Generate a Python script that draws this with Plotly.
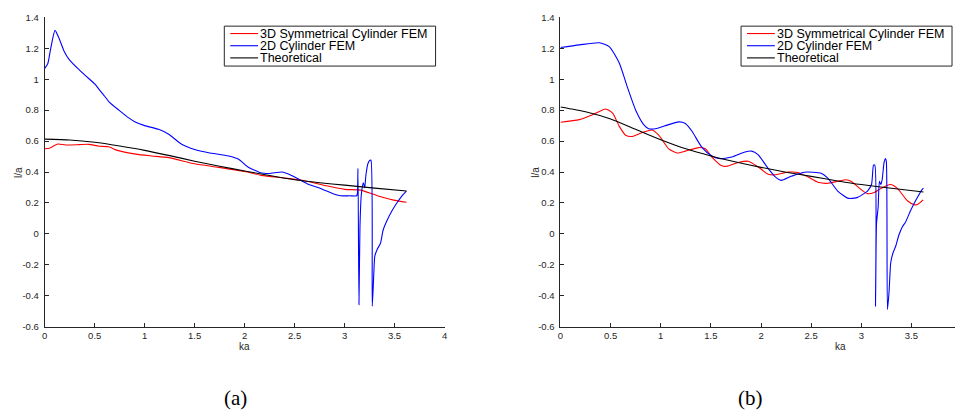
import plotly.graph_objects as go

W, H = 958, 418

# ---------------- data ----------------
# (a) left panel
a_blue_x = [0.0, 0.03, 0.06, 0.103, 0.14, 0.195, 0.245, 0.33, 0.41, 0.5, 0.543, 0.6, 0.643, 0.742,
            0.84, 0.91, 1.0, 1.14, 1.24, 1.37, 1.5, 1.64, 1.84, 1.94, 2.03, 2.17, 2.23, 2.3, 2.37,
            2.47, 2.63, 2.76, 2.9, 2.96, 3.05, 3.12, 3.128, 3.134, 3.144, 3.154, 3.168, 3.188,
            3.201, 3.214, 3.234, 3.254, 3.264, 3.277, 3.293, 3.303, 3.327, 3.36, 3.386, 3.426,
            3.476, 3.526, 3.575, 3.618]
a_blue_y = [1.07, 1.1, 1.2, 1.316, 1.27, 1.18, 1.127, 1.07, 1.022, 0.97, 0.935, 0.89, 0.854, 0.80,
            0.75, 0.722, 0.70, 0.676, 0.644, 0.58, 0.546, 0.525, 0.504, 0.483, 0.434, 0.393, 0.39,
            0.395, 0.40, 0.378, 0.323, 0.294, 0.256, 0.246, 0.246, 0.246, 0.26, 0.424, -0.458,
            0.046, 0.256, 0.33, 0.298, 0.382, 0.455, 0.476, 0.476, -0.468, -0.248, -0.143, -0.1,
            -0.059, 0.025, 0.088, 0.151, 0.203, 0.246, 0.277]

a_red_x = [0.0, 0.046, 0.13, 0.21, 0.345, 0.44, 0.543, 0.64, 0.726, 0.91, 1.07, 1.24, 1.5, 1.74,
           2.0, 2.17, 2.4, 2.6, 2.83, 3.0, 3.16, 3.29, 3.39, 3.49, 3.62]
a_red_y = [0.55, 0.554, 0.581, 0.575, 0.577, 0.579, 0.567, 0.563, 0.54, 0.516, 0.504, 0.493, 0.453,
           0.43, 0.403, 0.378, 0.361, 0.344, 0.309, 0.288, 0.283, 0.256, 0.235, 0.218, 0.204]

a_theory_x = [0.0, 0.25, 0.5, 0.75, 1.0, 1.25, 1.5, 1.75, 2.0, 2.25, 2.5, 2.75, 3.0, 3.3, 3.62]
a_theory_y = [0.613, 0.607, 0.592, 0.568, 0.54, 0.506, 0.47, 0.437, 0.407, 0.377, 0.35, 0.331, 0.315,
              0.296, 0.277]

# (b) right panel
b_blue_x = [0.0, 0.188, 0.387, 0.486, 0.585, 0.667, 0.75, 0.83, 0.88, 0.948, 1.047, 1.18, 1.245,
            1.31, 1.41, 1.51, 1.576, 1.708, 1.84, 1.906, 1.97, 2.07, 2.137, 2.2, 2.3, 2.435, 2.6,
            2.666, 2.765, 2.864, 2.93, 2.963, 3.03, 3.062, 3.102, 3.122, 3.135, 3.142, 3.152,
            3.168, 3.181, 3.195, 3.208, 3.228, 3.241, 3.25, 3.261, 3.277, 3.294, 3.317, 3.343,
            3.376, 3.41, 3.442, 3.492, 3.541, 3.608, 3.62]
b_blue_y = [1.205, 1.222, 1.236, 1.211, 1.106, 0.949, 0.80, 0.707, 0.68, 0.68, 0.70, 0.724, 0.714,
            0.665, 0.56, 0.504, 0.487, 0.497, 0.529, 0.535, 0.512, 0.424, 0.372, 0.346, 0.372,
            0.399, 0.392, 0.361, 0.277, 0.231, 0.231, 0.236, 0.262, 0.277, 0.319, 0.445, 0.445,
            -0.468, 0.067, 0.172, 0.34, 0.319, 0.35, 0.466, 0.487, 0.466, -0.489, -0.374, -0.185,
            -0.122, -0.08, -0.006, 0.046, 0.077, 0.151, 0.214, 0.288, 0.295]

b_red_x = [0.0, 0.188, 0.32, 0.45, 0.52, 0.585, 0.65, 0.717, 0.816, 0.915, 0.98, 1.08, 1.163, 1.245,
           1.378, 1.444, 1.51, 1.61, 1.658, 1.774, 1.873, 1.97, 2.07, 2.137, 2.27, 2.37, 2.47,
           2.567, 2.666, 2.765, 2.848, 2.897, 2.996, 3.06, 3.128, 3.195, 3.29, 3.36, 3.46, 3.526,
           3.56, 3.617]
b_red_y = [0.722, 0.739, 0.77, 0.808, 0.781, 0.697, 0.638, 0.63, 0.655, 0.672, 0.638, 0.55, 0.523,
           0.535, 0.558, 0.55, 0.497, 0.44, 0.437, 0.462, 0.47, 0.434, 0.386, 0.382, 0.399, 0.397,
           0.367, 0.334, 0.327, 0.34, 0.35, 0.34, 0.288, 0.26, 0.267, 0.294, 0.319, 0.294, 0.214,
           0.189, 0.19, 0.22]

b_theory_x = [0.0, 0.25, 0.5, 0.75, 1.0, 1.25, 1.5, 1.75, 2.0, 2.25, 2.5, 2.75, 3.0, 3.3, 3.62]
b_theory_y = [0.821, 0.79, 0.743, 0.676, 0.609, 0.55, 0.504, 0.465, 0.43, 0.399, 0.372, 0.344,
              0.319, 0.295, 0.271]

series_names = ["3D Symmetrical Cylinder FEM", "2D Cylinder FEM", "Theoretical"]
series_colors = ["#ff0000", "#0000ff", "#000000"]
y_tick_vals = [1.4, 1.2, 1.0, 0.8, 0.6, 0.4, 0.2, 0.0, -0.2, -0.4, -0.6]
y_tick_text = ["1.4", "1.2", "1", "0.8", "0.6", "0.4", "0.2", "0", "-0.2", "-0.4", "-0.6"]
xa_tick_vals = [0, 0.5, 1, 1.5, 2, 2.5, 3, 3.5, 4]
xa_tick_text = ["0", "0.5", "1", "1.5", "2", "2.5", "3", "3.5", "4"]
xb_tick_vals = [0, 0.5, 1, 1.5, 2, 2.5, 3, 3.5]
xb_tick_text = ["0", "0.5", "1", "1.5", "2", "2.5", "3", "3.5"]
captions = ["(a)", "(b)"]
x_label = "ka"
y_label = "l/a"

# ---------------- figure ----------------
def px(x):
    return x / W

def py(y):
    return (H - y) / H

fig = go.Figure()

panels = [
    ("x", "y", a_red_x, a_red_y, a_blue_x, a_blue_y, a_theory_x, a_theory_y),
    ("x2", "y2", b_red_x, b_red_y, b_blue_x, b_blue_y, b_theory_x, b_theory_y),
]
for xr, yr, rx, ry, bx, by, tx, ty in panels:
    for name, col, xs, ys in [
        (series_names[0], series_colors[0], rx, ry),
        (series_names[1], series_colors[1], bx, by),
        (series_names[2], series_colors[2], tx, ty),
    ]:
        fig.add_trace(go.Scatter(x=xs, y=ys, mode="lines", name=name, xaxis=xr, yaxis=yr,
                                 line=dict(color=col, width=1.1, shape="spline", smoothing=0.6),
                                 showlegend=False, hoverinfo="skip"))

axis_col = "#262626"
sans = "Liberation Sans, Arial, Helvetica, sans-serif"
tickfont = dict(family=sans, size=9.5, color=axis_col)
common_x = dict(showline=True, linecolor=axis_col, linewidth=1, ticks="inside", ticklen=4,
                tickcolor=axis_col, tickfont=tickfont, showgrid=False, zeroline=False,
                mirror=False)
common_y = dict(showline=True, linecolor=axis_col, linewidth=1, ticks="inside", ticklen=4,
                tickcolor=axis_col, tickfont=tickfont, showgrid=False, zeroline=False,
                range=[-0.6, 1.4], tickvals=y_tick_vals, ticktext=y_tick_text, ticklabelstandoff=3)

y_dom = [py(329.3), py(11.7)]
fig.update_layout(
    width=W, height=H, margin=dict(l=0, r=0, t=0, b=0),
    paper_bgcolor="white", plot_bgcolor="white", showlegend=False,
    xaxis=dict(domain=[px(42), px(444.3)], range=[0, 4], tickvals=xa_tick_vals,
               ticktext=xa_tick_text, anchor="y", **common_x),
    yaxis=dict(domain=y_dom, anchor="x", **common_y),
    xaxis2=dict(domain=[px(561), 1.0], range=[0, (W - 561) / 100.9], tickvals=xb_tick_vals,
                ticktext=xb_tick_text, anchor="y2", **common_x),
    yaxis2=dict(domain=y_dom, anchor="x2", **common_y),
)

annotations = []
shapes = []
lab_font = dict(family=sans, size=10, color=axis_col)
panel_layout = [
    dict(xlab=243.2, cap=233.5, ylab=15, leg=(222.7, 435.3), caption=captions[0]),
    dict(xlab=842.5, cap=752.7, ylab=535, leg=(742.7, 955), caption=captions[1]),
]
for p in panel_layout:
    annotations.append(dict(text=x_label, x=px(p["xlab"]), y=py(349.5), xref="paper", yref="paper",
                            showarrow=False, font=lab_font, xanchor="center", yanchor="middle",
                            borderpad=0))
    annotations.append(dict(text=y_label, x=px(p["ylab"]), y=py(170.5), xref="paper", yref="paper",
                            showarrow=False, textangle=-90, font=lab_font,
                            xanchor="center", yanchor="middle"))
    annotations.append(dict(text=p["caption"], x=px(p["cap"]), y=py(403), xref="paper",
                            yref="paper", showarrow=False,
                            font=dict(family="Liberation Serif, Times New Roman, serif", size=21,
                                      color="black"),
                            xanchor="center", yanchor="middle"))
    lx0, lx1 = p["leg"]
    shapes.append(dict(type="rect", xref="paper", yref="paper", x0=px(lx0), x1=px(lx1),
                       y0=py(61.7), y1=py(20.7), line=dict(color=axis_col, width=1),
                       fillcolor="white", layer="above"))
    for i, (name, col) in enumerate(zip(series_names, series_colors)):
        yy = 28.3 + i * 12.5
        shapes.append(dict(type="line", xref="paper", yref="paper", x0=px(lx0 + 6),
                           x1=px(lx0 + 34), y0=py(yy), y1=py(yy),
                           line=dict(color=col, width=1.1), layer="above"))
        annotations.append(dict(text=name, x=px(lx0 + 35), y=py(yy + 0.5), xref="paper",
                                yref="paper", showarrow=False, xanchor="left", yanchor="middle",
                                borderpad=0,
                                font=dict(family=sans, size=12.5, color="black")))

fig.update_layout(annotations=annotations, shapes=shapes)
fig.write_html("out.html")
